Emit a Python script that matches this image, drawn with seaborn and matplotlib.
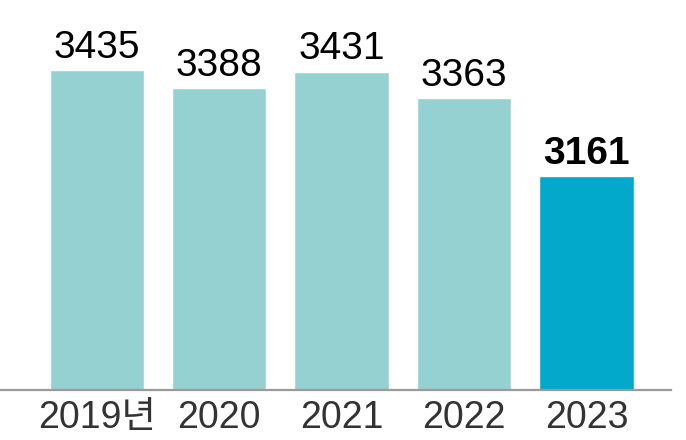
import matplotlib
matplotlib.use("Agg")
import matplotlib.pyplot as plt
import seaborn as sns
import pandas as pd

years = ["2019년", "2020", "2021", "2022", "2023"]
values = [3435, 3388, 3431, 3363, 3161]
bar_colors = ["#96D1D1", "#96D1D1", "#96D1D1", "#96D1D1", "#03A9CB"]

sns.set_style("white")
plt.rcParams["font.family"] = ["Liberation Sans", "Noto Sans CJK KR"]

df = pd.DataFrame({"year": years, "value": values})

fig = plt.figure(figsize=(6.86, 4.40), dpi=100)
ax = fig.add_axes([0, 50 / 440, 671 / 686, 390 / 440])

sns.barplot(data=df, x="year", y="value", hue="year", palette=bar_colors,
            width=0.77, legend=False, saturation=1, ax=ax)

# truncated axis, like the newspaper graphic
ax.set_ylim(2608, 3616)
ax.set_xlim(-0.79, 4.69)

for i, cont in enumerate(ax.containers):
    ax.bar_label(cont, labels=[str(values[i])], padding=3, fontsize=28,
                 color="black", fontweight="bold" if i == len(values) - 1 else "normal")

sns.despine(ax=ax, left=True)
ax.spines["bottom"].set_color("#9a9a9a")
ax.spines["bottom"].set_linewidth(1.6)
ax.set_yticks([])
ax.set_xlabel("")
ax.set_ylabel("")
ax.tick_params(axis="x", length=0, pad=7, labelsize=27, labelcolor="#333333")

fig.savefig("out.png", dpi=100)
